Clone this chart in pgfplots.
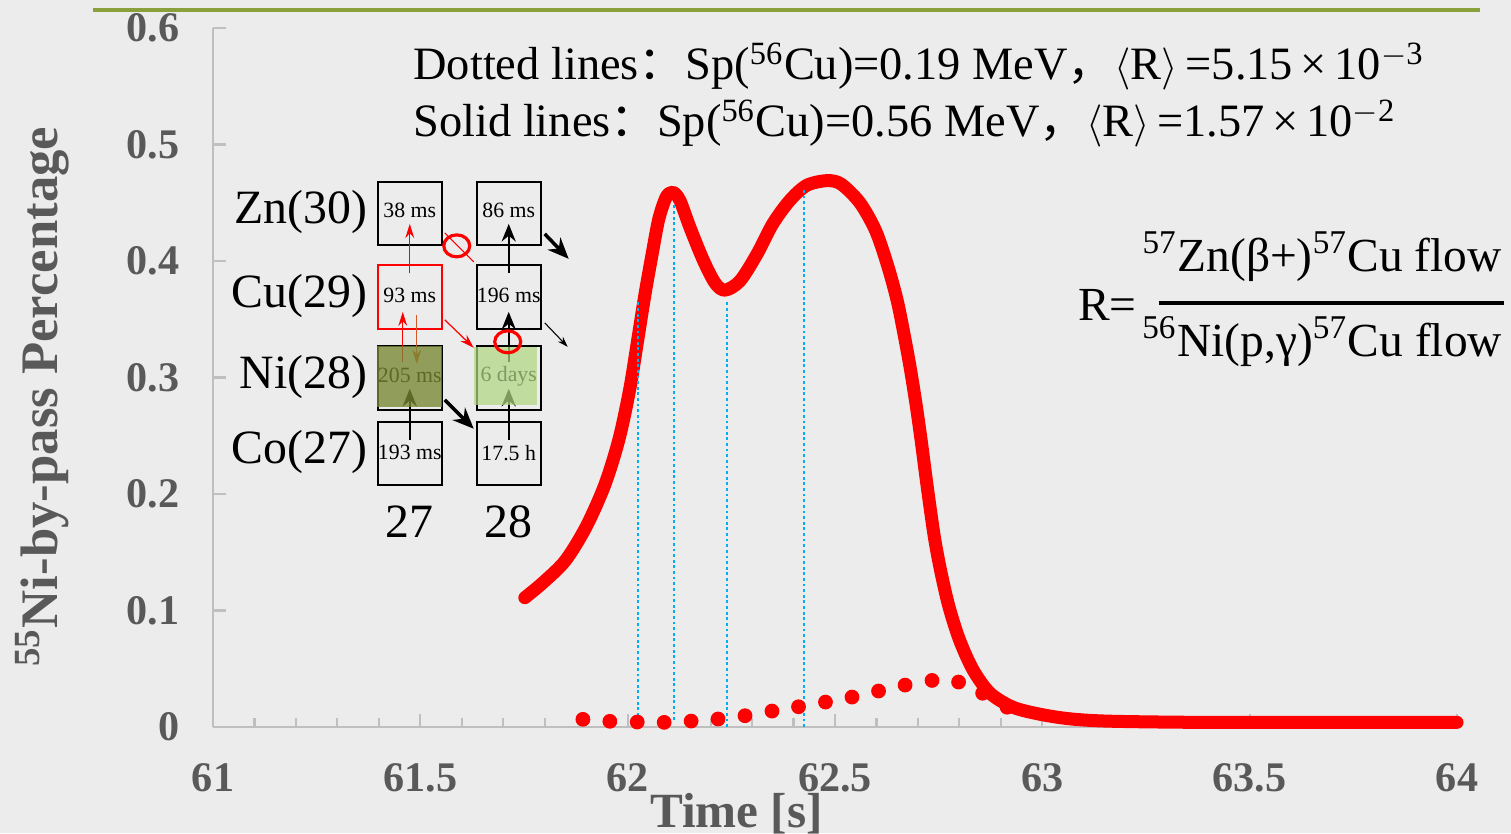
\documentclass[border=0pt]{standalone}
\usepackage{fontspec}
\setmainfont{Liberation Serif}
\newfontfamily\cjk{Noto Sans CJK SC}
\usepackage{pgfplots}
\pgfplotsset{compat=1.18}
\usetikzlibrary{arrows.meta}

\definecolor{bg}{RGB}{236,236,236}
\definecolor{topbar}{RGB}{138,160,58}
\definecolor{axgray}{RGB}{191,191,191}
\definecolor{lblgray}{RGB}{89,89,89}
\definecolor{xlblue}{RGB}{0,176,240}
\definecolor{nidark}{RGB}{120,135,50}
\definecolor{nilight}{RGB}{176,214,130}
\definecolor{orangearr}{RGB}{210,90,40}

\begin{document}
\begin{tikzpicture}
\fill[bg] (0,0) rectangle (15.11cm,8.33cm);
\path[use as bounding box] (0,0) rectangle (15.11cm,8.33cm);
\draw[topbar, line width=1.2pt] (0.93cm,8.23cm) -- (14.8cm,8.23cm);

\begin{axis}[
  at={(2.13cm,1.06cm)}, anchor=south west,
  scale only axis, width=12.44cm, height=6.99cm,
  xmin=61, xmax=64, ymin=0, ymax=0.6,
  clip=false,
  axis lines*=left,
  axis line style={axgray, line width=0.6pt},
  xtick={61,61.5,62,62.5,63,63.5,64},
  ytick={0,0.1,0.2,0.3,0.4,0.5,0.6},
  minor x tick num=4,
  tick align=inside,
  tick style={axgray, line width=0.6pt},
  major tick length=0.13cm, minor tick length=0.09cm,
  /pgf/number format/assume math mode=true,
  ticklabel style={font=\bfseries\fontsize{12}{12}\selectfont, text=lblgray},
  xticklabel style={yshift=-0.24cm},
  yticklabel style={xshift=-0.21cm},
]
% dotted lines: Sp(56Cu)=0.19 MeV
\addplot[only marks, mark=*, mark size=1.9pt, mark options={draw=red, fill=red}] coordinates {
 (61.892,0.0066) (61.957,0.0049) (62.023,0.0043) (62.088,0.0040) (62.153,0.0051)
 (62.218,0.0069) (62.283,0.0097) (62.348,0.0137) (62.412,0.0174) (62.477,0.0214)
 (62.541,0.0257) (62.605,0.0309) (62.669,0.0360) (62.734,0.0400) (62.798,0.0386)
 (62.856,0.0290) (62.915,0.0170)
};
% solid lines: Sp(56Cu)=0.56 MeV
\addplot[red, line width=3.7pt, smooth, tension=0.5, line cap=round, line join=round] coordinates {
 (61.752,0.111) (61.796,0.124) (61.850,0.143) (61.900,0.172) (61.945,0.208)
 (61.979,0.247) (62.005,0.290) (62.025,0.334) (62.042,0.372) (62.059,0.406)
 (62.075,0.436) (62.093,0.455) (62.109,0.459) (62.126,0.452) (62.150,0.429)
 (62.182,0.401) (62.211,0.381) (62.235,0.375) (62.271,0.383) (62.312,0.406)
 (62.350,0.432) (62.391,0.452) (62.432,0.465) (62.481,0.469) (62.515,0.466)
 (62.560,0.450) (62.598,0.426) (62.627,0.396) (62.650,0.366) (62.666,0.338)
 (62.681,0.309) (62.695,0.278) (62.707,0.248) (62.718,0.218) (62.729,0.189)
 (62.741,0.160) (62.756,0.132) (62.775,0.103) (62.800,0.075) (62.833,0.049)
 (62.874,0.029) (62.929,0.017) (62.994,0.011) (63.067,0.007) (63.163,0.005)
 (63.380,0.004) (63.700,0.004) (64.000,0.004)
};
% drop lines
\addplot[xlblue, line width=0.6pt, dash pattern=on 0.8pt off 0.8pt] coordinates {(62.025,0) (62.025,0.365)};
\addplot[xlblue, line width=0.6pt, dash pattern=on 0.8pt off 0.8pt] coordinates {(62.112,0.006) (62.112,0.450)};
\addplot[xlblue, line width=0.6pt, dash pattern=on 0.8pt off 0.8pt] coordinates {(62.239,0) (62.239,0.365)};
\addplot[xlblue, line width=0.6pt, dash pattern=on 0.8pt off 0.8pt] coordinates {(62.425,0) (62.425,0.462)};
\end{axis}

% annotations in pixel units, origin top left
\begin{scope}[shift={(0,8.33cm)}, x=0.01cm, y=-0.01cm]
\node[rotate=90, font=\bfseries\fontsize{15}{15}\selectfont, text=lblgray] at (42,397) {\textsuperscript{55}Ni-by-pass Percentage};
\node[font=\bfseries\fontsize{14}{14}\selectfont, text=lblgray] at (737,814) {Time [s]};

\begin{scope}[font=\fontsize{13.2}{15}\selectfont]
\node[anchor=base west, inner sep=0] at (413,80) {Dotted lines{\cjk ：}Sp(\textsuperscript{56}Cu)=0.19 MeV{\cjk ，}$\langle$R$\rangle$\,=5.15\,×\,10\textsuperscript{$-$3}};
\node[anchor=base west, inner sep=0] at (413,137) {Solid lines{\cjk ：}Sp(\textsuperscript{56}Cu)=0.56 MeV{\cjk ，}$\langle$R$\rangle$\,=1.57\,×\,10\textsuperscript{$-$2}};
\end{scope}

% R definition
\begin{scope}[font=\fontsize{13.5}{16}\selectfont]
\node[anchor=base east, inner sep=0] at (1138,321) {R=};
\draw[line width=1.1pt] (1160,303) -- (1505,303);
\node[anchor=base, inner sep=0] at (1323,272) {\textsuperscript{57}Zn(β+)\textsuperscript{57}Cu flow};
\node[anchor=base, inner sep=0] at (1323,357) {\textsuperscript{56}Ni(p,γ)\textsuperscript{57}Cu flow};
\end{scope}

% nuclide chart inset
\begin{scope}[font=\fontsize{13.6}{16}\selectfont]
\node[anchor=east, inner sep=0] at (368,212) {Zn(30)};
\node[anchor=east, inner sep=0] at (368,296) {Cu(29)};
\node[anchor=east, inner sep=0] at (368,377) {Ni(28)};
\node[anchor=east, inner sep=0] at (368,452) {Co(27)};
\node at (410,522) {27};
\node at (509,522) {28};
\end{scope}

\begin{scope}[font=\fontsize{6.2}{7}\selectfont]
\node at (410,210) {38 ms};
\node at (410,296) {93 ms};
\node at (410,376) {205 ms};
\node at (410,453) {193 ms};
\node at (509,210) {86 ms};
\node at (509,296) {196 ms};
\node at (509,376) {6 days};
\node at (509,453) {17.5 h};
\end{scope}

\draw[line width=0.6pt] (378,182) rectangle (442,245);
\draw[line width=0.6pt, red] (378,265) rectangle (442,329);
\draw[line width=0.6pt] (378,346) rectangle (442,410);
\draw[line width=0.6pt] (378,422) rectangle (442,485);
\draw[line width=0.6pt] (477,182) rectangle (541,245);
\draw[line width=0.6pt] (477,265) rectangle (541,329);
\draw[line width=0.6pt] (477,346) rectangle (541,410);
\draw[line width=0.6pt] (477,422) rectangle (541,485);

% flows
\draw[line width=0.6pt, -{Stealth[length=5pt,width=4pt]}] (410,440) -- (410,389);
\draw[line width=0.6pt, -{Stealth[length=5pt,width=4pt]}] (509,440) -- (509,389);
\draw[line width=0.6pt, -{Stealth[length=5pt,width=4pt]}] (509,362) -- (509,312);
\draw[line width=0.6pt, -{Stealth[length=5pt,width=4pt]}] (509,273) -- (509,224);
\draw[line width=1pt, -{Stealth[length=6pt,width=5pt]}] (445,400) -- (474,429);
\draw[line width=1pt, -{Stealth[length=6pt,width=5pt]}] (545,234) -- (569,259);
\draw[line width=0.3pt, -{Stealth[length=3pt,width=2pt]}] (545,323) -- (568,347);
\draw[red, line width=0.35pt, -{Stealth[length=4pt,width=2.5pt]}] (410,273) -- (410,224);
\draw[red, line width=0.35pt, -{Stealth[length=4pt,width=2.5pt]}] (403,362) -- (403,312);
\draw[orangearr, line width=0.35pt, -{Stealth[length=4pt,width=2.5pt]}] (417,315) -- (417,364);
\draw[red, line width=0.35pt, -{Stealth[length=4pt,width=2.5pt]}] (445,320) -- (474,348);

% Ni fills
\fill[nidark, opacity=0.78] (377,346) rectangle (442,407);
\fill[nilight, opacity=0.72] (474,347) rectangle (537,405);

% red markers
\draw[red, line width=0.9pt] (457,246) ellipse (13 and 11);
\draw[red, line width=0.35pt] (445,233) -- (474,262);
\draw[red, line width=0.9pt] (508,342) ellipse (13 and 11);
\end{scope}
\end{tikzpicture}
\end{document}
